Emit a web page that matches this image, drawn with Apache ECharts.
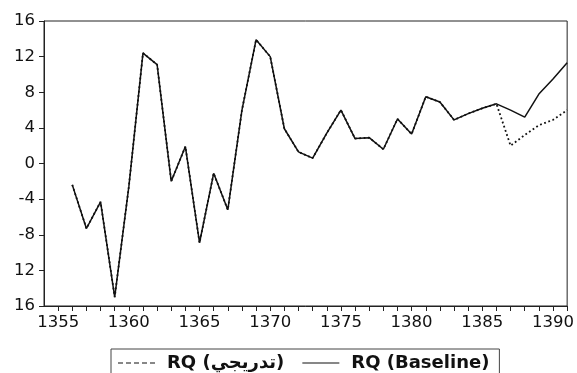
<!DOCTYPE html>
<html>
<head>
<meta charset="utf-8">
<script src="https://cdn.jsdelivr.net/npm/echarts@6/dist/echarts.min.js"></script>
<style>
html,body{margin:0;padding:0;background:#fff;}
#c{width:577px;height:373px;}
</style>
</head>
<body>
<div id="c"></div>
<script>
const years = [1356,1357,1358,1359,1360,1361,1362,1363,1364,1365,1366,1367,1368,1369,1370,1371,1372,1373,1374,1375,1376,1377,1378,1379,1380,1381,1382,1383,1384,1385,1386,1387,1388,1389,1390,1391];
const baseline = [-2.4,-7.3,-4.3,-15.0,-2.6,12.4,11.1,-2.0,1.9,-8.9,-1.1,-5.2,6.0,13.9,12.0,3.9,1.3,0.6,3.4,6.0,2.8,2.9,1.6,5.0,3.3,7.5,6.9,4.9,5.6,6.2,6.7,6.0,5.2,7.8,9.5,11.3];
const gradual = [-2.4,-7.3,-4.3,-15.0,-2.6,12.4,11.1,-2.0,1.9,-8.9,-1.1,-5.2,6.0,13.9,12.0,3.9,1.3,0.6,3.4,6.0,2.8,2.9,1.6,5.0,3.3,7.5,6.9,4.9,5.6,6.2,6.7,2.0,3.2,4.3,4.9,6.0];
const seriesNames = ['RQ (تدريجي)', 'RQ (Baseline)'];
const yTickLabels = ['16','12','-8','-4','0','4','8','12','16']; // bottom to top, as printed
const xLabelYears = [1355,1360,1365,1370,1375,1380,1385,1390];
const xTickYears = [1355,1356,1357,1358,1359,1360,1361,1362,1363,1364,1365,1366,1367,1368,1369,1370,1371,1372,1373,1374,1375,1376,1377,1378,1379,1380,1381,1382,1383,1384,1385,1386,1387,1388,1389,1390,1391];

const pair = (xs, ys) => xs.map((x, i) => [x, ys[i]]);
const chart = echarts.init(document.getElementById('c'), null, {renderer: 'canvas'});
const font = 'DejaVu Sans';
const dashIcon = 'path://M0,0h5v1h-5z M8,0h5v1h-5z M16,0h5v1h-5z M24,0h5v1h-5z M32,0h5v1h-5z';
const solidIcon = 'path://M0,0h37v1h-37z';
chart.setOption({
  animation: false,
  backgroundColor: '#fff',
  grid: {left: 44, right: 9, top: 21, bottom: 67, show: true, borderColor: '#222', borderWidth: 1, backgroundColor: 'transparent'},
  xAxis: {
    type: 'value', min: 1354, max: 1391,
    axisLine: {show: true, onZero: false, lineStyle: {color: '#222', width: 1}},
    axisTick: {show: true, inside: false, length: 5, customValues: xTickYears, lineStyle: {color: '#222', width: 1}},
    axisLabel: {customValues: xLabelYears, color: '#111', fontFamily: font, fontSize: 16.5, margin: 8, formatter: v => String(v)},
    splitLine: {show: false}
  },
  yAxis: {
    type: 'value', min: -16, max: 16, interval: 4,
    axisLine: {show: true, onZero: false, lineStyle: {color: '#222', width: 1}},
    axisTick: {show: true, inside: false, length: 5, lineStyle: {color: '#222', width: 1}},
    axisLabel: {color: '#111', fontFamily: font, fontSize: 16.5, margin: 9,
      formatter: v => yTickLabels[Math.round((v + 16) / 4)]},
    splitLine: {show: false}
  },
  legend: {
    left: 111, top: 349,
    data: [{name: seriesNames[0], icon: dashIcon}, {name: seriesNames[1], icon: solidIcon}],
    orient: 'horizontal',
    itemWidth: 37, itemHeight: 1.3, itemGap: 18,
    borderColor: '#444', borderWidth: 1,
    padding: [5, 10, 20, 7],
    textStyle: {fontFamily: font, fontWeight: 'bold', fontSize: 18, color: '#111', padding: [0, 0, 0, 7]}
  },
  series: [
    {
      name: seriesNames[1], type: 'line', data: pair(years, baseline),
      showSymbol: false, symbol: 'none',
      lineStyle: {color: '#111', width: 1.5, type: 'solid'},
      itemStyle: {color: '#111'}, z: 2
    },
    {
      name: seriesNames[0], type: 'line', data: pair(years, gradual),
      showSymbol: false, symbol: 'none',
      lineStyle: {color: '#111', width: 1.8, type: [1.8, 2.6]},
      itemStyle: {color: '#111'}, z: 3
    }
  ]
});
</script>
</body>
</html>
